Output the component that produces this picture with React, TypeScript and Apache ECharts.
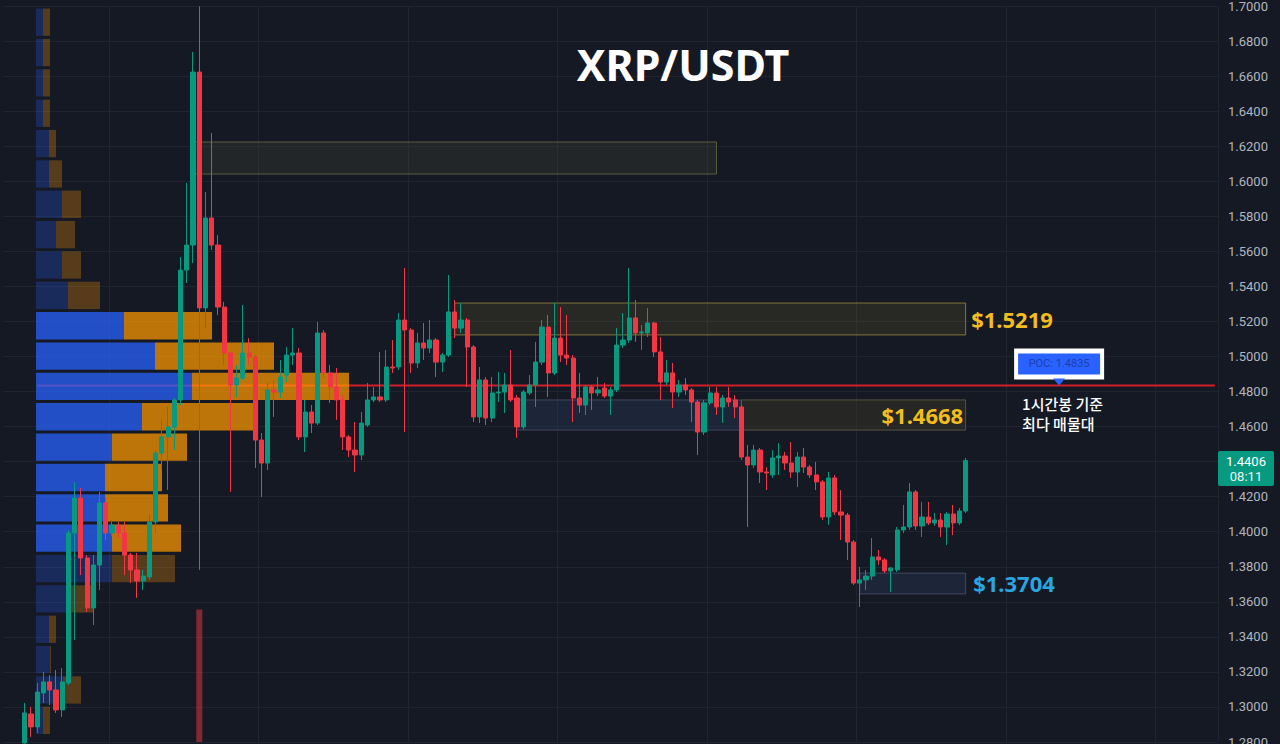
import React, { useEffect, useRef } from 'react';
import * as echarts from 'echarts';

// ---------- data ----------
const LEAD_SLOTS = 3; // empty slots before the first visible candle
const TOTAL_SLOTS = 195; // slots on the time axis (incl. right margin)

const opens = [
  1.2794, 1.2960, 1.2886, 1.3080, 1.3143, 1.3097, 1.2983, 1.3137, 1.3993, 1.4192,
  1.3850, 1.3565, 1.3810, 1.4164, 1.3993, 1.4033, 1.3993, 1.3867, 1.3782, 1.3719,
  1.3742, 1.4056, 1.4449, 1.4541, 1.4598, 1.4752, 1.5493, 1.5636, 1.6623, 1.5277,
  1.5790, 1.5636, 1.5282, 1.5020, 1.4837, 1.4877, 1.5020, 1.4997, 1.4523, 1.4392,
  1.4809, 1.4797, 1.4894, 1.5008, 1.5020, 1.4541, 1.4683, 1.4620, 1.5134, 1.4906,
  1.4826, 1.4752, 1.4541, 1.4466, 1.4438, 1.4609, 1.4752, 1.4769, 1.4752, 1.4940,
  1.4940, 1.5208, 1.5151, 1.4963, 1.5077, 1.5048, 1.5094, 1.4968, 1.5008, 1.5254,
  1.5162, 1.5208, 1.5054, 1.4655, 1.4866, 1.4649, 1.4792, 1.4797, 1.4837, 1.4763,
  1.4598, 1.4792, 1.4837, 1.4968, 1.5168, 1.4906, 1.5105, 1.5008, 1.4991, 1.4763,
  1.4723, 1.4826, 1.4792, 1.4820, 1.4774, 1.4809, 1.5065, 1.5094, 1.5220, 1.5134,
  1.5134, 1.5191, 1.5026, 1.4854, 1.4906, 1.4797, 1.4837, 1.4809, 1.4740, 1.4569,
  1.4735, 1.4792, 1.4712, 1.4763, 1.4752, 1.4712, 1.4426, 1.4381, 1.4466, 1.4341,
  1.4324, 1.4421, 1.4432, 1.4392, 1.4341, 1.4426, 1.4369, 1.4324, 1.4284, 1.4084,
  1.4307, 1.4113, 1.4095, 1.3941, 1.3707, 1.3725, 1.3747, 1.3856, 1.3839, 1.3776,
  1.3782, 1.4010, 1.4027, 1.4227, 1.4033, 1.4084, 1.4050, 1.4067, 1.4027, 1.4101,
  1.4050, 1.4118,
];
const closes = [
  1.2966, 1.2886, 1.3085, 1.3143, 1.3097, 1.2983, 1.3143, 1.3993, 1.4192, 1.3850,
  1.3565, 1.3810, 1.4164, 1.3993, 1.4038, 1.3993, 1.3867, 1.3782, 1.3719, 1.3747,
  1.4056, 1.4449, 1.4541, 1.4598, 1.4752, 1.5493, 1.5636, 1.6623, 1.5277, 1.5790,
  1.5636, 1.5282, 1.5020, 1.4837, 1.4877, 1.5020, 1.4997, 1.4523, 1.4392, 1.4809,
  1.4797, 1.4883, 1.5008, 1.5020, 1.4541, 1.4683, 1.4620, 1.5134, 1.4906, 1.4826,
  1.4752, 1.4541, 1.4466, 1.4438, 1.4620, 1.4752, 1.4769, 1.4752, 1.4940, 1.4934,
  1.5208, 1.5151, 1.4963, 1.5077, 1.5048, 1.5094, 1.4968, 1.5008, 1.5254, 1.5162,
  1.5208, 1.5054, 1.4655, 1.4866, 1.4649, 1.4792, 1.4797, 1.4837, 1.4752, 1.4598,
  1.4797, 1.4837, 1.4968, 1.5168, 1.4906, 1.5105, 1.5008, 1.4991, 1.4763, 1.4723,
  1.4826, 1.4792, 1.4809, 1.4774, 1.4809, 1.5065, 1.5094, 1.5220, 1.5134, 1.5140,
  1.5191, 1.5026, 1.4854, 1.4906, 1.4797, 1.4837, 1.4809, 1.4740, 1.4569, 1.4735,
  1.4792, 1.4712, 1.4763, 1.4740, 1.4712, 1.4426, 1.4381, 1.4466, 1.4341, 1.4335,
  1.4421, 1.4432, 1.4392, 1.4341, 1.4426, 1.4369, 1.4324, 1.4284, 1.4084, 1.4307,
  1.4113, 1.4095, 1.3941, 1.3707, 1.3725, 1.3747, 1.3856, 1.3839, 1.3776, 1.3793,
  1.4010, 1.4027, 1.4227, 1.4033, 1.4084, 1.4050, 1.4067, 1.4027, 1.4101, 1.4050,
  1.4118, 1.4406,
];
const lows = [
  1.2789, 1.2829, 1.2852, 1.3023, 1.3011, 1.2966, 1.2943, 1.3125, 1.3382, 1.3753,
  1.3542, 1.3468, 1.3667, 1.3953, 1.3976, 1.3964, 1.3753, 1.3707, 1.3622, 1.3667,
  1.3725, 1.3993, 1.4352, 1.4238, 1.4466, 1.4723, 1.5419, 1.5533, 1.3782, 1.5162,
  1.5608, 1.5237, 1.4951, 1.4227, 1.4769, 1.4866, 1.4951, 1.4364, 1.4198, 1.4352,
  1.4655, 1.4763, 1.4854, 1.4951, 1.4523, 1.4455, 1.4563, 1.4609, 1.4877, 1.4735,
  1.4638, 1.4466, 1.4426, 1.4341, 1.4409, 1.4598, 1.4740, 1.4740, 1.4740, 1.4906,
  1.4923, 1.4569, 1.4906, 1.4934, 1.4980, 1.5020, 1.4883, 1.4911, 1.4997, 1.5105,
  1.5134, 1.4826, 1.4626, 1.4620, 1.4609, 1.4626, 1.4740, 1.4677, 1.4740, 1.4535,
  1.4583, 1.4780, 1.4712, 1.4951, 1.4769, 1.4894, 1.4968, 1.4951, 1.4626, 1.4677,
  1.4666, 1.4695, 1.4774, 1.4763, 1.4666, 1.4797, 1.5048, 1.5077, 1.5083, 1.5037,
  1.5111, 1.4997, 1.4752, 1.4837, 1.4706, 1.4769, 1.4780, 1.4626, 1.4438, 1.4552,
  1.4723, 1.4666, 1.4620, 1.4712, 1.4649, 1.4409, 1.4027, 1.4364, 1.4278, 1.4238,
  1.4307, 1.4324, 1.4352, 1.4307, 1.4255, 1.4335, 1.4307, 1.4238, 1.4067, 1.4038,
  1.4095, 1.3953, 1.3839, 1.3696, 1.3570, 1.3667, 1.3725, 1.3810, 1.3764, 1.3656,
  1.3770, 1.3993, 1.4010, 1.4010, 1.3970, 1.4038, 1.4033, 1.3970, 1.3924, 1.3981,
  1.4038, 1.4107,
];
const highs = [
  1.3023, 1.3000, 1.3137, 1.3200, 1.3182, 1.3211, 1.3222, 1.4010, 1.4284, 1.4250,
  1.3867, 1.3867, 1.4227, 1.4198, 1.4067, 1.4056, 1.4056, 1.3879, 1.3879, 1.3782,
  1.4095, 1.4466, 1.4638, 1.4712, 1.4763, 1.5568, 1.5990, 1.6737, 1.6998, 1.5938,
  1.6275, 1.5693, 1.5311, 1.5026, 1.4951, 1.5294, 1.5105, 1.5008, 1.4563, 1.4849,
  1.4866, 1.4980, 1.5054, 1.5162, 1.5048, 1.4752, 1.4723, 1.5197, 1.5151, 1.4951,
  1.4934, 1.4780, 1.4552, 1.4626, 1.4683, 1.4849, 1.4826, 1.5026, 1.5037, 1.5094,
  1.5248, 1.5505, 1.5162, 1.5134, 1.5191, 1.5208, 1.5105, 1.5020, 1.5465, 1.5322,
  1.5305, 1.5220, 1.5065, 1.4940, 1.4883, 1.4883, 1.4911, 1.4906, 1.5037, 1.4780,
  1.4809, 1.4894, 1.5083, 1.5208, 1.5237, 1.5305, 1.5282, 1.5237, 1.5008, 1.4906,
  1.4837, 1.4837, 1.4883, 1.4849, 1.4826, 1.5162, 1.5248, 1.5505, 1.5322, 1.5180,
  1.5277, 1.5197, 1.5111, 1.4980, 1.4963, 1.4866, 1.4877, 1.4820, 1.4752, 1.4752,
  1.4826, 1.4826, 1.4780, 1.4826, 1.4780, 1.4723, 1.4495, 1.4495, 1.4478, 1.4369,
  1.4466, 1.4506, 1.4455, 1.4512, 1.4455, 1.4478, 1.4381, 1.4398, 1.4295, 1.4341,
  1.4324, 1.4238, 1.4107, 1.3953, 1.3799, 1.3782, 1.3964, 1.3896, 1.3850, 1.3799,
  1.4027, 1.4153, 1.4278, 1.4238, 1.4170, 1.4170, 1.4107, 1.4107, 1.4113, 1.4153,
  1.4135, 1.4421,
];

// only the spike candle's volume bar reaches into view
const visibleVolumes: [number, number][] = [[28, 180]];

// volume profile rows, top (highest price) to bottom
const profileBuy = [7, 7, 7, 7, 13, 13, 26, 20, 26, 32, 88, 119, 156, 106, 76, 69, 69, 76, 76, 34, 13, 14, 27, 7];
const profileSell = [7, 7, 7, 7, 7, 13, 19, 19, 19, 32, 88, 119, 157, 111, 75, 57, 63, 69, 63, 23, 7, 1, 18, 7];
const valueAreaFirstRow = 10;
const valueAreaLastRow = 17;

const pocPrice = 1.4835;
const countdown = '08:11';

// zones: candle index range and price range
const zones = [
  { from: 27, to: 111, top: 1.6224, bottom: 1.6041, kind: 'dark', label: '' },
  { from: 69, to: 151, top: 1.5305, bottom: 1.5123, kind: 'olive', label: '$1.5219' },
  { from: 79, to: 115, top: 1.4752, bottom: 1.4580, kind: 'blue', label: '' },
  { from: 115, to: 151, top: 1.4752, bottom: 1.4580, kind: 'gray', label: '$1.4668' },
  { from: 134, to: 151, top: 1.3764, bottom: 1.3645, kind: 'blue', label: '$1.3704' },
];

// ---------- styling ----------
const BG = '#151924';
const UP = '#089981';
const DOWN = '#f23645';
const GRID_LINE = '#20242f';
const PLOT_LEFT = 3;
const PLOT_RIGHT_GAP = 62;

const zoneStyles: Record<string, any> = {
  dark: { color: 'rgba(80,80,55,0.25)', borderColor: 'rgba(120,118,72,0.7)', borderWidth: 1 },
  olive: { color: 'rgba(110,100,40,0.22)', borderColor: 'rgba(160,145,60,0.75)', borderWidth: 1 },
  blue: { color: 'rgba(50,70,110,0.28)', borderColor: 'rgba(90,100,130,0.6)', borderWidth: 1 },
  gray: { color: 'rgba(60,58,40,0.45)', borderColor: 'rgba(100,98,75,0.8)', borderWidth: 1 },
};

export default function App() {
  const ref = useRef<HTMLDivElement>(null);

  useEffect(() => {
    document.body.style.margin = '0';
    document.body.style.background = BG;
    const chart = echarts.init(ref.current!, null, { renderer: 'svg' });

    const slots = Array.from({ length: TOTAL_SLOTS }, (_, i) => String(i));
    const candleData = slots.map((_, i) => {
      const k = i - LEAD_SLOTS;
      if (k < 0 || k >= opens.length) return ['-', '-', '-', '-'];
      return [opens[k], closes[k], lows[k], highs[k]];
    });
    const volumeData = slots.map((_, i) => {
      const hit = visibleVolumes.find((v) => v[0] + LEAD_SLOTS === i);
      return hit ? hit[1] : '-';
    });
    const pocLine = slots.map((_, i) => (i >= 5 ? pocPrice : '-'));

    const rowNames = profileBuy.map((_, i) => 'r' + i);
    const inVA = (i: number) => i >= valueAreaFirstRow && i <= valueAreaLastRow;

    const zoneAreas = zones.map((z) => {
      const isBlueLabel = z.label === '$1.3704';
      const inside = z.label === '$1.4668';
      return [
        {
          xAxis: z.from + LEAD_SLOTS,
          yAxis: z.top,
          itemStyle: zoneStyles[z.kind],
          label: {
            show: !!z.label,
            position: inside ? 'insideRight' : 'right',
            distance: inside ? 3 : isBlueLabel ? 7 : 5,
            formatter: z.label,
            color: isBlueLabel ? '#2aa5e0' : '#f2bd1d',
            fontSize: 22,
            fontWeight: 'bold',
            fontFamily: 'Noto Sans',
          },
        },
        { xAxis: z.to + LEAD_SLOTS, yAxis: z.bottom },
      ];
    });

    chart.setOption({
      animation: false,
      backgroundColor: BG,
      grid: [
        { left: PLOT_LEFT, right: PLOT_RIGHT_GAP, top: 6, bottom: 2, outerBoundsMode: 'none', containLabel: false },
        { left: 36, top: 7, width: 400, height: 728.5, outerBoundsMode: 'none', containLabel: false },
      ],
      xAxis: [
        {
          type: 'category',
          gridIndex: 0,
          data: slots,
          boundaryGap: true,
          axisLine: { show: false },
          axisTick: { show: false },
          axisLabel: { show: false },
          splitLine: {
            show: true,
            interval: (index: number) => index >= 17 && (index - 17) % 24 === 0,
            lineStyle: { color: GRID_LINE, width: 1 },
          },
        },
        { type: 'value', gridIndex: 1, min: 0, max: 400, show: false },
      ],
      yAxis: [
        {
          type: 'value',
          gridIndex: 0,
          position: 'right',
          min: 1.28,
          max: 1.7,
          interval: 0.02,
          axisLine: { show: false },
          axisTick: { show: false },
          axisLabel: {
            color: '#b2b5be',
            fontSize: 13,
            fontFamily: 'Roboto',
            margin: 10,
            formatter: (v: number) => v.toFixed(4),
          },
          splitLine: { show: true, lineStyle: { color: GRID_LINE, width: 1 } },
        },
        { type: 'value', gridIndex: 0, min: 0, max: 1000, show: false },
        { type: 'category', gridIndex: 1, data: rowNames, inverse: true, show: false },
      ],
      series: [
        {
          type: 'line',
          name: 'POC',
          xAxisIndex: 0,
          yAxisIndex: 0,
          data: pocLine,
          showSymbol: false,
          symbol: 'none',
          silent: true,
          z: 1,
          lineStyle: { color: '#d11f28', width: 2 },
        },
        {
          type: 'bar',
          name: 'Buy',
          xAxisIndex: 1,
          yAxisIndex: 2,
          stack: 'vp',
          barCategoryGap: '10%',
          silent: true,
          z: 2,
          data: profileBuy.map((v, i) => ({
            value: v,
            itemStyle: { color: inVA(i) ? 'rgba(41,98,255,0.74)' : 'rgba(41,98,255,0.25)' },
          })),
        },
        {
          type: 'bar',
          name: 'Sell',
          xAxisIndex: 1,
          yAxisIndex: 2,
          stack: 'vp',
          barCategoryGap: '10%',
          silent: true,
          z: 2,
          data: profileSell.map((v, i) => ({
            value: v,
            itemStyle: { color: inVA(i) ? 'rgba(255,152,0,0.72)' : 'rgba(255,152,0,0.28)' },
          })),
        },
        {
          type: 'bar',
          name: 'Volume',
          xAxisIndex: 0,
          yAxisIndex: 1,
          barWidth: 6,
          silent: true,
          z: 2,
          data: volumeData,
          itemStyle: { color: 'rgba(242,54,69,0.5)' },
        },
        {
          type: 'candlestick',
          name: 'XRP/USDT',
          xAxisIndex: 0,
          yAxisIndex: 0,
          barWidth: 4.6,
          z: 3,
          data: candleData,
          itemStyle: {
            color: UP,
            color0: DOWN,
            borderColor: UP,
            borderColor0: DOWN,
            borderWidth: 1,
          },
          markArea: {
            silent: true,
            data: zoneAreas,
          },
        },
      ],
    });

    // annotations anchored to data values
    const lastPrice = closes[closes.length - 1];
    const plotRight = chart.getWidth() - PLOT_RIGHT_GAP;
    const yLast = chart.convertToPixel({ yAxisIndex: 0 }, lastPrice) as number;
    const yPoc = chart.convertToPixel({ yAxisIndex: 0 }, pocPrice) as number;
    const xPoc = chart.convertToPixel({ xAxisIndex: 0 }, 169) as number;

    chart.setOption({
      graphic: [
        {
          type: 'text',
          x: 683,
          y: 64,
          z: 50,
          style: {
            text: 'XRP/USDT',
            fill: '#ffffff',
            fontSize: 43,
            fontWeight: 'bold',
            fontFamily: 'Noto Sans',
            align: 'center',
            verticalAlign: 'middle',
          },
        },
        {
          type: 'rect',
          z: 50,
          shape: { x: plotRight, y: yLast - 9.5, width: 56, height: 35, r: 2 },
          style: { fill: UP },
        },
        {
          type: 'text',
          z: 51,
          x: plotRight + 28,
          y: yLast + 0.5,
          style: {
            text: lastPrice.toFixed(4),
            fill: '#ffffff',
            fontSize: 13,
            fontFamily: 'Roboto',
            align: 'center',
            verticalAlign: 'middle',
          },
        },
        {
          type: 'text',
          z: 51,
          x: plotRight + 28,
          y: yLast + 16,
          style: {
            text: countdown,
            fill: '#e6f5f1',
            fontSize: 13,
            fontFamily: 'Roboto',
            align: 'center',
            verticalAlign: 'middle',
          },
        },
        {
          type: 'rect',
          z: 50,
          shape: { x: xPoc - 45, y: yPoc - 37, width: 90, height: 31 },
          style: { fill: '#ffffff' },
        },
        {
          type: 'rect',
          z: 51,
          shape: { x: xPoc - 41, y: yPoc - 32, width: 82, height: 21 },
          style: { fill: '#2962ff' },
        },
        {
          type: 'text',
          z: 52,
          x: xPoc,
          y: yPoc - 21.5,
          style: {
            text: 'POC: ' + pocPrice.toFixed(4),
            fill: '#1c3fae',
            fontSize: 11,
            fontFamily: 'Roboto',
            align: 'center',
            verticalAlign: 'middle',
          },
        },
        {
          type: 'polygon',
          z: 52,
          shape: {
            points: [
              [xPoc - 6, yPoc - 7],
              [xPoc + 6, yPoc - 7],
              [xPoc, yPoc],
            ],
          },
          style: { fill: '#2962ff' },
        },
        {
          type: 'text',
          z: 52,
          x: xPoc - 37,
          y: yPoc + 8,
          style: {
            text: '1시간봉 기준\n최다 매물대',
            fill: '#ffffff',
            fontSize: 15,
            lineHeight: 20,
            fontWeight: 500,
            fontFamily: 'Noto Sans CJK KR',
            align: 'left',
            verticalAlign: 'top',
          },
        },
      ],
    });

    return () => chart.dispose();
  }, []);

  return <div ref={ref} style={{ width: 1280, height: 744, background: BG }} />;
}
